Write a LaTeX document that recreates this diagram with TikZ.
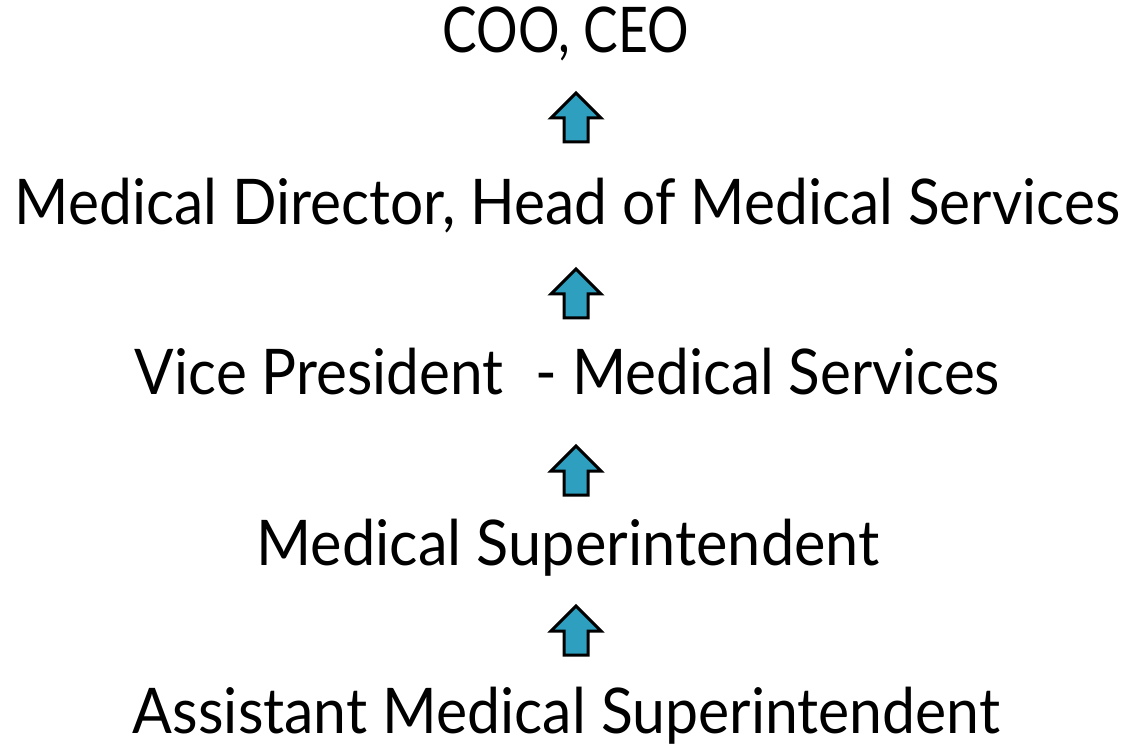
\documentclass[tikz,border=0pt]{standalone}
\usepackage{fontspec}
\setmainfont{Lato}
\usepackage{graphicx}
\definecolor{arrowfill}{RGB}{46,159,190}
\newcommand{\fitto}[2]{\resizebox{#1}{\height}{#2}}
\begin{document}
\begin{tikzpicture}[x=1pt,y=-1pt,
  lbl/.style={anchor=base,inner sep=0pt,font=\fontsize{63}{70}\selectfont},
  uparrow/.pic={\draw[line width=3pt,line join=miter,fill=arrowfill]
     (0,0) -- (25,25) -- (12,25) -- (12,49) -- (-12,49) -- (-12,25) -- (-25,25) -- cycle;}]
\useasboundingbox (0,0) rectangle (1128,746);
\node[lbl] (coo) at (566,53) {\fitto{246pt}{COO, CEO}};
\node[lbl] (md) at (567.5,225) {\fitto{1105pt}{Medical Director, Head of Medical Services}};
\node[lbl] (vp) at (567.5,395) {\fitto{865pt}{Vice President\hspace{0.55em}- Medical Services}};
\node[lbl] (ms) at (568,565) {\fitto{623pt}{Medical Superintendent}};
\node[lbl] (ams) at (566.5,733) {\fitto{867pt}{Assistant Medical Superintendent}};
\pic at (576,93) {uparrow};
\pic at (576,269) {uparrow};
\pic at (576,446) {uparrow};
\pic at (576,606) {uparrow};
\end{tikzpicture}
\end{document}
